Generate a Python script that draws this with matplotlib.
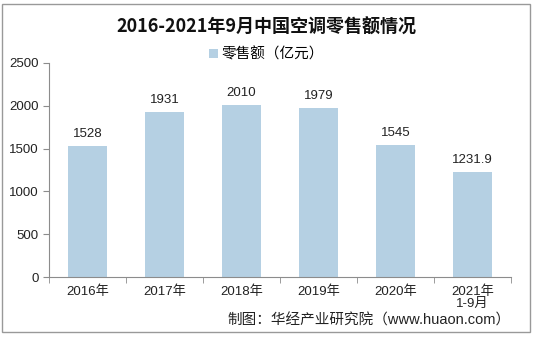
import matplotlib.pyplot as plt
from matplotlib.patches import Rectangle

plt.rcParams['font.family'] = ['Liberation Sans', 'Noto Sans CJK SC', 'DejaVu Sans']

years = ['2016年', '2017年', '2018年', '2019年', '2020年', '2021年\n1-9月']
sales = [1528, 1931, 2010, 1979, 1545, 1231.9]
value_labels = ['1528', '1931', '2010', '1979', '1545', '1231.9']

bar_color = '#b5d0e3'
axis_color = '#8c8c8c'

fig = plt.figure(figsize=(5.33, 3.38), dpi=100)
fig.patch.set_facecolor('white')
fig.patches.append(Rectangle((0.004, 0.018), 0.99, 0.97, transform=fig.transFigure,
                             fill=False, edgecolor='#999999', linewidth=1.0))

ax = fig.add_axes([0.092, 0.180, 0.867, 0.634])
x = range(len(years))
bars = ax.bar(x, sales, width=0.5, color=bar_color, label='零售额（亿元）')
for xi, v, t in zip(x, sales, value_labels):
    ax.text(xi, v + 70, t, ha='center', va='bottom', fontsize=9.5, color='#222222')

ax.set_xlim(-0.5, len(years) - 0.5)
ax.set_ylim(0, 2500)
ax.set_yticks([0, 500, 1000, 1500, 2000, 2500])
ax.set_xticks(list(x))
ax.set_xticklabels(years, fontsize=9.5, color='#222222', linespacing=1.0)
ax.tick_params(axis='y', labelsize=9.5, colors='#222222', length=4, color=axis_color)
ax.tick_params(axis='x', length=0, pad=6)
# category boundary ticks on the x axis
ax.set_xticks([i - 0.5 for i in range(len(years) + 1)], minor=True)
ax.tick_params(axis='x', which='minor', length=4, color=axis_color)

for s in ['top', 'right']:
    ax.spines[s].set_visible(False)
for s in ['left', 'bottom']:
    ax.spines[s].set_color(axis_color)
    ax.spines[s].set_linewidth(0.8)

fig.text(0.5, 0.918, '2016-2021年9月中国空调零售额情况', ha='center', va='center',
         fontsize=13, fontweight='bold', color='#111111',
         family=['Noto Sans CJK SC', 'DejaVu Sans'])
fig.legend(handles=[bars], loc='center', bbox_to_anchor=(0.50, 0.838), frameon=False,
           fontsize=10.5, handlelength=0.6, handleheight=0.6, handletextpad=0.3)
fig.text(0.958, 0.052, '制图：华经产业研究院（www.huaon.com）', ha='right', va='center',
         fontsize=10.5, color='#222222')

fig.savefig('out.png', dpi=100)
